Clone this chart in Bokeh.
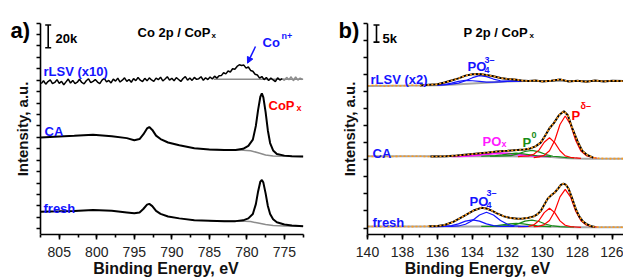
import numpy as np
from bokeh.plotting import figure
from bokeh.layouts import row
from bokeh.models import (Range1d, SingleIntervalTicker, FixedTicker, LinearAxis, Label,
                          Arrow, NormalHead)
from bokeh.embed import file_html
from bokeh.resources import INLINE

FONT = "Liberation Sans"
BLUE = "#1414ff"
RED = "#ff0000"
MAG = "#ff1aff"
GREEN = "#178c17"
ORANGE = "#ff9a1a"
GRAY = "#8c8c8c"

# ---------------- Panel a: Co 2p (values in k counts, stacked) ----------------
E_a = [807.5, 805.0, 803.0, 800.5, 798.0, 796.0, 795.0, 794.3, 793.8, 793.3, 793.0, 792.6,
       792.1, 791.5, 790.5, 789.0, 787.0, 785.0, 783.0, 781.5, 780.5, 779.8, 779.2, 778.8,
       778.5, 778.2, 778.0, 777.8, 777.5, 777.2, 776.9, 776.5, 776.0, 775.0, 774.0, 772.5]
fresh_a = [15.0, 15.3, 15.6, 16.4, 15.7, 14.3, 13.6, 14.3, 17.3, 21.1, 21.8, 19.8,
           15.6, 13.0, 10.7, 9.1, 7.4, 7.0, 6.6, 6.7, 7.4, 9.1, 13.0, 21.6,
           32.7, 41.3, 42.7, 40.4, 31.0, 19.9, 13.0, 8.3, 5.7, 3.7, 2.9, 2.3]
ca_a = [79.8, 80.8, 81.3, 82.2, 81.0, 79.3, 77.5, 78.5, 82.5, 87.8, 89.0, 86.5,
        81.5, 78.5, 75.5, 73.0, 70.5, 69.3, 69.0, 69.0, 70.0, 72.5, 78.0, 90.0,
        104.0, 115.5, 118.4, 115.0, 102.0, 86.0, 75.0, 68.5, 65.5, 64.0, 63.5, 63.3]
E_bg_a = [785.0, 781.0, 779.5, 778.5, 777.5, 776.5, 775.0, 772.5]
fresh_bg_a = [7.0, 6.7, 6.3, 5.0, 3.7, 2.9, 2.5, 2.3]
ca_bg_a = [69.3, 69.0, 68.3, 66.5, 64.5, 63.6, 63.4, 63.3]
E_rlsv_a = np.linspace(807.4, 775.3, 108)
rlsv_a = [127.0, 129.5, 126.5, 128.8, 130.2, 126.9, 128.0, 130.5, 127.2, 129.0,
          126.0, 128.5, 131.0, 127.5, 129.8, 127.0, 128.2, 130.8, 128.0, 126.8,
          129.5, 131.2, 127.8, 129.0, 130.5, 128.3, 127.0, 130.0, 131.5, 128.5,
          129.8, 127.6, 130.9, 129.2, 131.8, 128.4, 130.0, 132.0, 129.0, 130.6,
          128.2, 131.4, 129.6, 132.3, 130.0, 128.8, 131.6, 129.4, 132.0, 130.2,
          128.9, 131.8, 130.4, 132.6, 129.3, 131.0, 133.0, 130.1, 131.7, 129.5,
          132.2, 130.6, 128.9, 131.5, 133.1, 130.0, 131.9, 129.8, 132.4, 130.7,
          131.3, 133.0, 129.9, 132.1, 130.5, 132.8, 131.0, 133.5, 131.8, 133.9,
          134.0, 136.5, 135.5, 138.0, 137.2, 140.0, 139.5, 142.0, 143.5, 142.8,
          143.2, 140.5, 141.5, 138.5, 137.8, 135.2, 134.5, 131.8, 133.2, 130.5,
          132.4, 129.6, 131.9, 130.2, 128.8, 132.0, 130.1, 131.3]
E_rlsv_tail_a = np.linspace(775.3, 772.6, 10)
rlsv_tail_a = [131.3, 129.8, 132.5, 130.4, 133.0, 129.5, 132.8, 130.0, 131.8, 130.6]
E_rlsv_bg_a = [784.4, 772.5]
rlsv_bg_a = [130.8, 130.8]
ticks_y_a = [0, 10, 20, 30, 40, 50, 60, 70, 80, 90, 100, 110, 120, 130, 140, 150, 160, 170, 180]

# ---------------- Panel b: P 2p (values in k counts, stacked) ----------------
E_fresh_b = [140.0, 139.0, 138.0, 137.5, 137.0, 136.5, 136.0, 135.6, 135.1, 134.5, 133.9,
             133.5, 133.2, 132.9, 132.6, 132.2, 131.8, 131.4, 131.1, 130.8, 130.5, 130.3,
             130.1, 129.9, 129.7, 129.5, 129.3, 129.1, 128.95, 128.8, 128.65, 128.5, 128.3,
             128.1, 127.9, 127.7, 127.5, 127.2, 127.0, 126.5, 126.0, 125.4]
fresh_b = [0.45, 0.4, 0.45, 0.4, 0.45, 0.5, 0.6, 0.9, 1.8, 3.5, 5.2,
           5.9, 5.7, 5.1, 4.3, 3.4, 2.9, 2.7, 2.8, 3.0, 3.4, 4.0,
           5.0, 6.8, 8.6, 9.6, 10.4, 11.6, 12.6, 13.0, 12.6, 11.4, 8.6,
           5.6, 3.4, 2.0, 1.2, 0.5, 0.3, 0.2, 0.25, 0.2]
E_ca_b = [140.0, 139.0, 138.0, 137.0, 136.4, 135.5, 134.9, 134.3, 133.7, 133.1, 132.6,
          132.0, 131.45, 131.0, 130.7, 130.4, 130.1, 129.85, 129.6, 129.35, 129.06, 128.78,
          128.55, 128.3, 128.0, 127.73, 127.45, 127.1, 126.8, 126.0, 125.4]
ca_b = [21.0, 20.9, 21.0, 21.0, 20.9, 21.0, 21.2, 21.5, 21.8, 22.1, 22.4,
        22.6, 22.8, 23.0, 23.3, 23.9, 25.0, 27.0, 29.2, 30.7, 33.0, 34.2,
        33.0, 29.2, 25.4, 22.6, 21.4, 20.6, 20.4, 20.3, 20.3]
E_rlsv_b = [140.0, 139.5, 139.0, 138.5, 138.0, 137.5, 137.0, 136.5, 136.0, 135.6, 135.2,
            134.8, 134.4, 134.0, 133.6, 133.2, 132.8, 132.4, 132.0, 131.6, 131.2, 130.8,
            130.4, 130.0, 129.5, 129.0, 128.5, 128.0, 127.5, 127.0, 126.5, 126.0, 125.4]
rlsv_b = [41.6, 41.8, 41.5, 41.7, 41.6, 41.8, 41.7, 41.9, 42.1, 42.6, 43.2,
          43.8, 44.6, 45.0, 45.1, 44.8, 44.4, 43.9, 43.6, 43.5, 43.2, 43.0,
          43.2, 42.9, 43.1, 43.5, 42.9, 43.1, 42.8, 43.2, 42.9, 43.1, 43.0]

# backgrounds
E_bg_fresh_b = [140.0, 130.0, 129.0, 128.0, 125.4]
bg_fresh_b = [0.45, 0.45, 0.35, 0.22, 0.2]
E_bg_ca_b = [140.0, 133.0, 131.0, 130.0, 129.5, 129.0, 128.5, 128.0, 127.5, 125.4]
bg_ca_b = [21.0, 21.0, 20.95, 20.9, 20.8, 20.6, 20.45, 20.35, 20.3, 20.3]
E_bg_rlsv_b = [140.0, 137.0, 136.0, 135.0, 134.0, 133.0, 132.0, 131.0, 125.4]
bg_rlsv_b = [41.6, 41.7, 41.8, 42.0, 42.3, 42.6, 42.9, 43.0, 43.0]

# fit components
E_red1 = [130.5, 130.2, 129.9, 129.6, 129.3, 129.0, 128.7, 128.4, 128.1, 127.8, 127.5, 127.2, 126.9]
fresh_red1 = [0.4, 0.5, 1.0, 2.2, 4.9, 9.1, 11.3, 9.1, 4.9, 2.1, 0.9, 0.4, 0.3]
ca_red1 = [20.6, 20.8, 21.3, 22.6, 25.6, 30.3, 32.8, 30.3, 25.6, 22.5, 21.2, 20.7, 20.5]
E_red2 = [131.4, 131.1, 130.8, 130.5, 130.2, 129.9, 129.6, 129.3, 129.0, 128.7, 128.4, 128.1, 127.8]
fresh_red2 = [0.4, 0.4, 0.5, 0.9, 2.2, 4.5, 5.8, 4.5, 2.1, 0.8, 0.4, 0.3, 0.2]
ca_red2 = [20.9, 21.0, 21.1, 21.6, 22.8, 25.1, 26.4, 25.0, 22.6, 21.1, 20.7, 20.5, 20.4]
E_green1 = [133.0, 132.6, 132.2, 131.8, 131.4, 131.0, 130.6, 130.2, 129.8, 129.4, 129.0, 128.6, 128.2]
fresh_green1 = [0.5, 0.5, 0.6, 0.7, 1.2, 2.0, 2.3, 1.9, 1.1, 0.6, 0.4, 0.3, 0.3]
ca_green1 = [21.0, 21.0, 21.1, 21.2, 21.7, 22.4, 22.7, 22.3, 21.5, 21.0, 20.8, 20.6, 20.5]
E_green2 = [133.5, 133.1, 132.7, 132.3, 131.9, 131.5, 131.1, 130.7, 130.3, 129.9, 129.5]
fresh_green2 = [0.5, 0.5, 0.6, 0.9, 1.2, 1.4, 1.2, 0.9, 0.6, 0.5, 0.4]
ca_green2 = [21.0, 21.1, 21.2, 21.4, 21.7, 21.9, 21.7, 21.4, 21.1, 21.0, 20.9]
E_mag = [135.2, 134.8, 134.4, 134.0, 133.6, 133.2, 132.8, 132.4, 132.0, 131.6, 131.2, 130.8, 130.4, 130.0, 129.6]
ca_mag = [21.0, 21.0, 21.1, 21.2, 21.4, 21.6, 21.8, 21.9, 21.8, 21.6, 21.4, 21.2, 21.1, 21.0, 21.0]
E_blue1 = [135.6, 135.2, 134.8, 134.4, 134.0, 133.6, 133.2, 132.8, 132.4, 132.0, 131.6, 131.2, 130.8]
fresh_blue1 = [0.5, 0.5, 0.6, 1.1, 2.2, 3.8, 4.6, 3.8, 2.2, 1.1, 0.6, 0.5, 0.5]
E_blue2 = [136.4, 136.0, 135.6, 135.2, 134.8, 134.4, 134.0, 133.6, 133.2, 132.8, 132.4, 132.0, 131.6]
fresh_blue2 = [0.4, 0.4, 0.5, 0.7, 1.2, 2.0, 2.4, 2.0, 1.2, 0.7, 0.5, 0.5, 0.5]
E_rlsv_blue = [136.0, 135.6, 135.2, 134.8, 134.4, 134.0, 133.6, 133.2, 132.8, 132.4, 132.0, 131.6, 131.2]
rlsv_blue1 = [41.8, 41.9, 42.1, 42.4, 43.1, 44.0, 44.6, 44.3, 43.6, 43.1, 43.0, 43.0, 43.0]
rlsv_blue2 = [41.8, 42.0, 42.4, 42.9, 43.2, 43.1, 42.9, 42.7, 42.7, 42.8, 42.9, 43.0, 43.0]
ticks_y_b = [0, 5, 10, 15, 20, 25, 30, 35, 40, 45, 50, 55, 60]

# ---------------- layout: anchors in page pixels ----------------
H = 279
FRAME_BOTTOM = 239
# l/r: pixel columns of x0/x1 ; t/b: pixel rows of y1/y0
PA = dict(l=40, r=303, t=23, b=239, x0=807.5, x1=772.45, y0=-5.0, y1=180.0, page_left=0, w=331)
PB = dict(l=367, r=623, t=23, b=239, x0=140.0, x1=125.37, y0=-1.9, y1=60.0, page_left=331, w=292)


def px2x(P, xpx):
    return P["x0"] + (xpx - P["l"]) / (P["r"] - P["l"]) * (P["x1"] - P["x0"])


def px2y(P, ypx):
    return P["y0"] + (P["b"] - ypx) / (P["b"] - P["t"]) * (P["y1"] - P["y0"])


def make_fig(P, interval_x, yticks):
    p = figure(width=P["w"], height=H,
               x_range=Range1d(px2x(P, P["page_left"]), px2x(P, P["page_left"] + P["w"])),
               y_range=Range1d(px2y(P, FRAME_BOTTOM), px2y(P, 0)),
               output_backend="svg", toolbar_location=None, y_axis_location=None,
               min_border_left=0, min_border_right=0, min_border_top=0,
               min_border_bottom=H - FRAME_BOTTOM)
    p.outline_line_color = None
    p.grid.visible = False
    p.background_fill_color = "white"
    p.border_fill_color = "white"
    xa = p.xaxis[0]
    xa.bounds = (min(P["x0"], P["x1"]), max(P["x0"], P["x1"]))
    xa.ticker = SingleIntervalTicker(interval=interval_x, num_minor_ticks=2)
    xa.major_label_text_font = FONT
    xa.major_label_text_font_size = "14px"
    xa.major_label_text_color = "#222222"
    xa.major_label_standoff = 7
    xa.axis_label = "Binding Energy, eV"
    xa.axis_label_text_font = FONT
    xa.axis_label_text_font_size = "16px"
    xa.axis_label_text_font_style = "bold"
    xa.axis_label_text_color = "#111111"
    xa.axis_label_standoff = 0
    xa.major_tick_out = 5
    xa.major_tick_in = 0
    xa.minor_tick_out = 3
    xa.minor_tick_in = 0
    ya = LinearAxis(fixed_location=P["x0"], bounds=(P["y0"], P["y1"]),
                    ticker=FixedTicker(ticks=[], minor_ticks=yticks))
    ya.axis_label = "Intensity, a.u."
    ya.axis_label_text_font = FONT
    ya.axis_label_text_font_size = "15px"
    ya.axis_label_text_font_style = "bold"
    ya.axis_label_text_color = "#111111"
    ya.axis_label_standoff = 6
    ya.major_label_standoff = 0
    ya.minor_tick_out = 4
    ya.minor_tick_in = 0
    for ax in (xa, ya):
        ax.axis_line_width = 1.6
        ax.major_tick_line_width = 1.6
        ax.minor_tick_line_width = 1.6
    p.add_layout(ya, "left")
    return p


def lab(p, P, xpx, ypx, text, color="black", size=13, style="bold"):
    p.add_layout(Label(x=px2x(P, xpx), y=px2y(P, ypx), text=text, text_font=FONT,
                       text_font_size=f"{size}px", text_font_style=style, text_color=color,
                       text_baseline="alphabetic", text_align="left"))


def scale_bar(p, P, xpx, ybot_px, length, text, text_x):
    x, y = px2x(P, xpx), px2y(P, ybot_px)
    dx = abs(px2x(P, xpx + 3) - x)
    p.segment(x0=[x], y0=[y], x1=[x], y1=[y + length], line_color="black", line_width=1.6)
    p.segment(x0=[x - dx, x - dx], y0=[y, y + length], x1=[x + dx, x + dx], y1=[y, y + length],
              line_color="black", line_width=1.6)
    lab(p, P, text_x, 39, text)


# ---------------- Panel a ----------------
pa = make_fig(PA, 5, ticks_y_a)
pa.line(E_bg_a, fresh_bg_a, line_color=GRAY, line_width=1.5)
pa.line(E_bg_a, ca_bg_a, line_color=GRAY, line_width=1.5)
pa.line(E_rlsv_bg_a, rlsv_bg_a, line_color=GRAY, line_width=1.5)
pa.line(E_rlsv_tail_a, rlsv_tail_a, line_color=GRAY, line_width=1.5)
pa.line(E_rlsv_a, rlsv_a, line_color="black", line_width=1.5)
pa.line(E_a, fresh_a, line_color="black", line_width=2)
pa.line(E_a, ca_a, line_color="black", line_width=2)

lab(pa, PA, 10, 31, "a)", size=22)
lab(pa, PA, 137, 33, "Co 2p / CoP", size=13)
lab(pa, PA, 211, 36, "x", size=8)
scale_bar(pa, PA, 47.7, 48.3, 20, "20k", 55)
lab(pa, PA, 43, 73, "rLSV (x10)", color=BLUE)
lab(pa, PA, 262, 43, "Co", color=BLUE)
lab(pa, PA, 281, 36, "n+", color=BLUE, size=9)
pa.add_layout(Arrow(end=NormalHead(size=6, fill_color=BLUE, line_color=BLUE),
                    x_start=px2x(PA, 255), y_start=px2y(PA, 47),
                    x_end=px2x(PA, 247), y_end=px2y(PA, 64),
                    line_color=BLUE, line_width=1.5))
lab(pa, PA, 268, 107, "CoP", color=RED)
lab(pa, PA, 296, 110, "x", color=RED, size=9)
lab(pa, PA, 44, 134, "CA", color=BLUE)
lab(pa, PA, 43, 212, "fresh", color=BLUE)

# ---------------- Panel b ----------------
pb = make_fig(PB, 2, ticks_y_b)
GRAYB = "#a6a6a6"
pb.line(E_bg_fresh_b, bg_fresh_b, line_color=GRAYB, line_width=2)
pb.line(E_bg_ca_b, bg_ca_b, line_color=GRAYB, line_width=2)
pb.line(E_bg_rlsv_b, bg_rlsv_b, line_color=GRAYB, line_width=2)

pb.line(E_rlsv_blue, rlsv_blue1, line_color=BLUE, line_width=1.2)
pb.line(E_rlsv_blue, rlsv_blue2, line_color=BLUE, line_width=1.2)
pb.line(E_mag, ca_mag, line_color=MAG, line_width=2)
for Eg, vals in ((E_green1, ca_green1), (E_green2, ca_green2),
                 (E_green1, fresh_green1), (E_green2, fresh_green2)):
    pb.line(Eg, vals, line_color=GREEN, line_width=1.2)
for Er, vals in ((E_red1, ca_red1), (E_red2, ca_red2),
                 (E_red1, fresh_red1), (E_red2, fresh_red2)):
    pb.line(Er, vals, line_color=RED, line_width=1.2)
pb.line(E_blue1, fresh_blue1, line_color=BLUE, line_width=1.2)
pb.line(E_blue2, fresh_blue2, line_color=BLUE, line_width=1.2)


def fit_part(E, v, lo, hi):
    E = np.asarray(E)
    v = np.asarray(v)
    m = (E >= lo) & (E <= hi)
    return E[m], v[m]


for E, v, lo, hi in ((E_fresh_b, fresh_b, 127.0, 136.5), (E_ca_b, ca_b, 127.1, 136.4),
                     (E_rlsv_b, rlsv_b, 125.3, 137.0)):
    fe, fv = fit_part(E, v, lo, hi)
    pb.line(fe, fv, line_color="black", line_width=2)
    pb.line(E, v, line_color=ORANGE, line_width=1.6, line_dash="2 2")

lab(pb, PB, 338, 31, "b)", size=22)
lab(pb, PB, 463, 33, "P 2p / CoP", size=13)
lab(pb, PB, 529, 36, "x", size=8)
scale_bar(pb, PB, 376, 42.5, 5, "5k", 382)
lab(pb, PB, 370, 81, "rLSV (x2)", color=BLUE)
lab(pb, PB, 467, 67, "PO", color=BLUE)
lab(pb, PB, 484, 71, "4", color=BLUE, size=9)
lab(pb, PB, 484, 61, "3\u2013", color=BLUE, size=9)
lab(pb, PB, 571, 117, "P", color=RED)
lab(pb, PB, 580, 108, "\u03b4\u2013", color=RED, size=9)
lab(pb, PB, 482, 144, "PO", color=MAG)
lab(pb, PB, 501, 147, "x", color=MAG, size=9)
lab(pb, PB, 522, 145, "P", color=GREEN)
lab(pb, PB, 531, 137, "0", color=GREEN, size=9)
lab(pb, PB, 372, 156, "CA", color=BLUE)
lab(pb, PB, 469, 205, "PO", color=BLUE)
lab(pb, PB, 486, 209, "4", color=BLUE, size=9)
lab(pb, PB, 486, 197, "3\u2013", color=BLUE, size=9)
lab(pb, PB, 372, 227, "fresh", color=BLUE)

layout = row(pa, pb)
open("out.html", "w").write(file_html(layout, INLINE))
